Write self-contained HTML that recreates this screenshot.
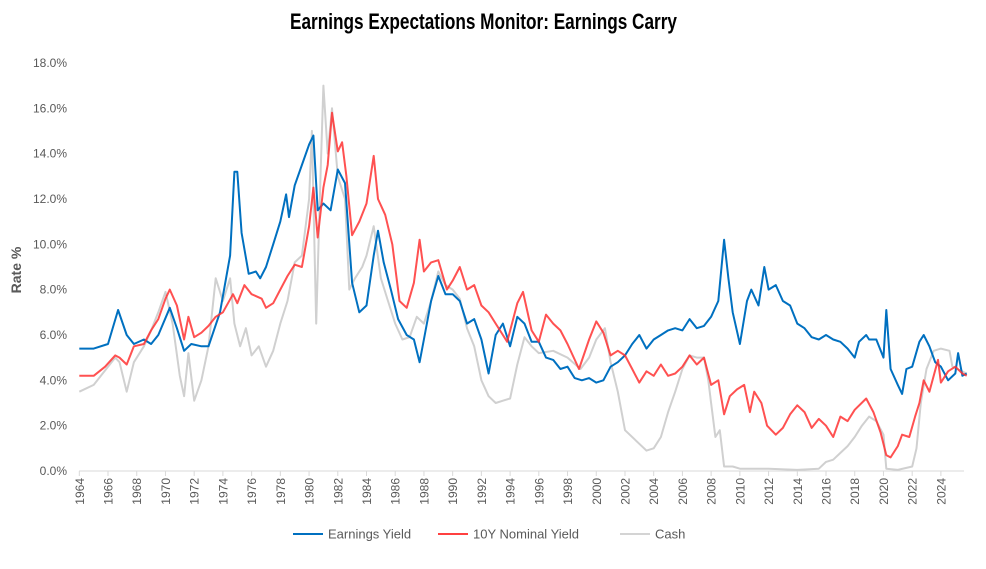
<!DOCTYPE html>
<html><head><meta charset="utf-8"><style>
body{margin:0;background:#fff;}
svg text{font-family:"Liberation Sans",sans-serif;}
</style></head><body>
<svg id="chart" width="986" height="564" xmlns="http://www.w3.org/2000/svg">
<text x="290" y="29" textLength="387" lengthAdjust="spacingAndGlyphs" style="font-family:'Liberation Sans Narrow','Liberation Sans',sans-serif;font-weight:bold;font-size:22px;fill:#000">Earnings Expectations Monitor: Earnings Carry</text>
<text transform="translate(21,270) rotate(-90)" text-anchor="middle" style="font-weight:bold;font-size:14px;fill:#595959">Rate %</text>
<g id="yticks"></g><g id="xticks"></g>
<line x1="79" y1="471" x2="964" y2="471" stroke="#d9d9d9" stroke-width="1"/>
<g id="series"></g>
<g>
<g><line x1="293" y1="534" x2="323" y2="534" stroke="#0070C0" stroke-width="2"/><text x="328" y="538.5" style="font-size:13px;fill:#595959">Earnings Yield</text></g>
<g><line x1="438" y1="534" x2="468" y2="534" stroke="#FF4040" stroke-width="2"/><text x="473" y="538.5" style="font-size:13px;fill:#595959">10Y Nominal Yield</text></g>
<g><line x1="620" y1="534" x2="650" y2="534" stroke="#d4d4d4" stroke-width="2"/><text x="655" y="538.5" style="font-size:13px;fill:#595959">Cash</text></g>
</g>
</svg>
<script>
const yTicks=[0,2,4,6,8,10,12,14,16,18];
const xTickYears=[1964,1966,1968,1970,1972,1974,1976,1978,1980,1982,1984,1986,1988,1990,1992,1994,1996,1998,2000,2002,2004,2006,2008,2010,2012,2014,2016,2018,2020,2022,2024];
const eyDates=[1964,1965,1966,1966.7,1967.3,1967.8,1968.5,1969,1969.5,1970.3,1970.8,1971.3,1971.8,1972.5,1973,1973.8,1974.5,1974.8,1975,1975.3,1975.8,1976.3,1976.6,1977,1977.5,1978,1978.4,1978.6,1979,1979.5,1980,1980.3,1980.6,1981,1981.5,1982,1982.5,1983,1983.5,1984,1984.5,1984.8,1985.2,1985.7,1986.2,1986.8,1987.3,1987.7,1988,1988.5,1989,1989.5,1990,1990.5,1991,1991.5,1992,1992.5,1993,1993.5,1994,1994.5,1995,1995.5,1996,1996.5,1997,1997.5,1998,1998.5,1999,1999.5,2000,2000.5,2001,2001.5,2002,2002.5,2003,2003.5,2004,2004.5,2005,2005.5,2006,2006.5,2007,2007.5,2008,2008.5,2008.9,2009.2,2009.5,2010,2010.5,2010.8,2011.3,2011.7,2012,2012.5,2013,2013.5,2014,2014.5,2015,2015.5,2016,2016.5,2017,2017.5,2018,2018.3,2018.8,2019,2019.5,2020,2020.2,2020.5,2021,2021.3,2021.6,2022,2022.5,2022.8,2023.2,2023.6,2024,2024.5,2025,2025.2,2025.5,2025.8];
const eyValues=[5.4,5.4,5.6,7.1,6.0,5.6,5.8,5.6,6.0,7.2,6.3,5.3,5.6,5.5,5.5,7.0,9.5,13.2,13.2,10.5,8.7,8.8,8.5,9.0,10.0,11.0,12.2,11.2,12.6,13.5,14.4,14.8,11.5,11.8,11.5,13.3,12.7,8.3,7.0,7.3,9.5,10.6,9.2,8.0,6.7,6.0,5.8,4.8,5.8,7.5,8.6,7.8,7.8,7.5,6.5,6.7,5.8,4.3,6.0,6.5,5.5,6.8,6.5,5.7,5.7,5.0,4.9,4.5,4.6,4.1,4.0,4.1,3.9,4.0,4.6,4.8,5.1,5.6,6.0,5.4,5.8,6.0,6.2,6.3,6.2,6.7,6.3,6.4,6.8,7.5,10.2,8.5,7.0,5.6,7.5,8.0,7.3,9.0,8.0,8.2,7.5,7.3,6.5,6.3,5.9,5.8,6.0,5.8,5.7,5.4,5.0,5.7,6.0,5.8,5.8,5.0,7.1,4.5,3.8,3.4,4.5,4.6,5.7,6.0,5.5,4.8,4.6,4.0,4.3,5.2,4.2,4.3];
const tyDates=[1964,1965,1965.8,1966.5,1966.8,1967.3,1967.8,1968.5,1969,1969.5,1970,1970.3,1970.8,1971.3,1971.6,1972,1972.5,1973,1973.5,1974,1974.7,1975,1975.5,1976,1976.7,1977,1977.5,1978,1978.5,1979,1979.5,1980,1980.3,1980.6,1981,1981.3,1981.6,1982,1982.3,1982.6,1983,1983.5,1984,1984.5,1984.8,1985.3,1985.8,1986.3,1986.8,1987.3,1987.7,1988,1988.5,1989,1989.6,1990,1990.5,1991,1991.5,1992,1992.5,1993,1993.8,1994.5,1994.9,1995.5,1996,1996.5,1997,1997.5,1998,1998.8,1999.5,2000,2000.5,2001,2001.5,2002,2002.5,2003,2003.5,2004,2004.5,2005,2005.5,2006,2006.5,2007,2007.5,2008,2008.5,2008.9,2009.3,2009.8,2010.3,2010.7,2011,2011.5,2011.9,2012.5,2013,2013.5,2014,2014.5,2015,2015.5,2016,2016.5,2017,2017.5,2018,2018.8,2019.3,2019.8,2020.2,2020.5,2021,2021.3,2021.8,2022.2,2022.5,2022.8,2023.2,2023.8,2024,2024.5,2025,2025.5,2025.8];
const tyValues=[4.2,4.2,4.6,5.1,5.0,4.7,5.5,5.6,6.2,6.7,7.6,8.0,7.3,5.8,6.8,5.9,6.1,6.4,6.8,7.0,7.8,7.4,8.2,7.8,7.6,7.2,7.4,8.0,8.6,9.1,9.0,10.8,12.5,10.3,12.5,13.5,15.8,14.1,14.5,13.0,10.4,11.0,11.8,13.9,12.0,11.3,10.0,7.5,7.2,8.3,10.2,8.8,9.2,9.3,8.0,8.4,9.0,8.0,8.2,7.3,7.0,6.5,5.7,7.4,7.9,6.2,5.7,6.9,6.5,6.2,5.6,4.5,5.8,6.6,6.1,5.1,5.3,5.1,4.5,3.9,4.4,4.2,4.7,4.2,4.3,4.6,5.1,4.7,5.0,3.8,4.0,2.5,3.3,3.6,3.8,2.6,3.5,3.0,2.0,1.6,1.9,2.5,2.9,2.6,1.9,2.3,2.0,1.5,2.4,2.2,2.7,3.2,2.6,1.7,0.7,0.6,1.1,1.6,1.5,2.4,3.0,4.0,3.5,4.9,3.9,4.4,4.6,4.3,4.2];
const cashDates=[1964,1965,1966,1966.5,1966.8,1967.3,1967.8,1968.5,1969,1969.5,1970,1970.5,1971,1971.3,1971.6,1972,1972.5,1973,1973.5,1974,1974.5,1974.8,1975.2,1975.6,1976,1976.5,1977,1977.5,1978,1978.5,1979,1979.5,1980,1980.2,1980.5,1980.8,1981,1981.3,1981.6,1982,1982.5,1982.8,1983.2,1983.7,1984,1984.5,1985,1985.5,1986,1986.5,1987,1987.5,1988,1988.5,1989,1989.5,1990,1990.5,1991,1991.5,1992,1992.5,1993,1993.5,1994,1994.5,1995,1995.5,1996,1997,1998,1998.9,1999.5,2000,2000.6,2001,2001.5,2002,2003,2003.5,2004,2004.5,2005,2005.5,2006,2006.5,2007,2007.5,2007.8,2008,2008.3,2008.6,2008.9,2009.5,2010,2012,2014,2015.5,2016,2016.5,2017,2017.5,2018,2018.5,2019,2019.5,2020,2020.2,2021,2022,2022.3,2022.6,2023,2023.5,2024,2024.6,2024.8,2025.8];
const cashValues=[3.5,3.8,4.6,5.0,4.8,3.5,4.8,5.5,6.2,7.0,7.9,6.5,4.2,3.3,5.2,3.1,4.0,5.5,8.5,7.5,8.5,6.5,5.5,6.3,5.1,5.5,4.6,5.3,6.5,7.5,9.2,9.5,12.0,15.0,6.5,13.0,17.0,14.0,16.0,13.0,12.0,8.0,8.5,9.0,9.5,10.8,8.5,7.5,6.5,5.8,5.9,6.8,6.5,7.5,8.8,8.2,8.0,7.6,6.3,5.5,4.0,3.3,3.0,3.1,3.2,4.7,5.9,5.5,5.2,5.3,5.0,4.5,5.0,5.8,6.3,4.8,3.5,1.8,1.2,0.9,1.0,1.5,2.6,3.5,4.5,5.1,5.0,5.0,4.0,3.0,1.5,1.8,0.2,0.2,0.1,0.1,0.05,0.1,0.4,0.5,0.8,1.1,1.5,2.0,2.4,2.2,1.6,0.1,0.05,0.2,1.0,3.0,4.5,5.3,5.4,5.3,4.6,4.3];

const NS='http://www.w3.org/2000/svg';
const X0=79.3,PXY=14.36,Y0=471,PXP=22.67;
function xs(t){return X0+(t-1964)*PXY;}
function ys(v){return Y0-v*PXP;}
const yg=document.getElementById('yticks');
yTicks.forEach(v=>{
  const t=document.createElementNS(NS,'text');
  
  
  t.setAttribute('x',67);t.setAttribute('y',ys(v)+4);
  t.setAttribute('text-anchor','end');
  t.setAttribute('style','font-size:12px;fill:#595959');
  t.textContent=v.toFixed(1)+'%';yg.appendChild(t);
});
const xg=document.getElementById('xticks');
xTickYears.forEach(yr=>{
  const x=xs(yr);
  const l=document.createElementNS(NS,'line');
  
  
  l.setAttribute('x1',x);l.setAttribute('x2',x);l.setAttribute('y1',471);l.setAttribute('y2',476);
  l.setAttribute('stroke','#d9d9d9');xg.appendChild(l);
  const t=document.createElementNS(NS,'text');
  
  
  t.setAttribute('transform','translate('+(x+4.5)+',478) rotate(-90)');
  t.setAttribute('text-anchor','end');
  t.setAttribute('style','font-size:12px;fill:#595959');
  t.textContent=yr;xg.appendChild(t);
});
const sg=document.getElementById('series');
function line(dates,vals,color,op,name){
  const p=document.createElementNS(NS,'path');
  
  
  p.setAttribute('d',dates.map((d,i)=>(i?'L':'M')+xs(d).toFixed(1)+','+ys(vals[i]).toFixed(1)).join(''));
  p.setAttribute('fill','none');p.setAttribute('stroke',color);p.setAttribute('stroke-width','2');
  p.setAttribute('stroke-opacity',op);p.setAttribute('stroke-linejoin','round');
  sg.appendChild(p);
}
line(cashDates,cashValues,'#d0d0d0',1,'cash-line');
line(eyDates,eyValues,'#0070C0',1,'earnings-yield-line');
line(tyDates,tyValues,'#FF3333',0.85,'10y-nominal-yield-line');
</script>
</body></html>
